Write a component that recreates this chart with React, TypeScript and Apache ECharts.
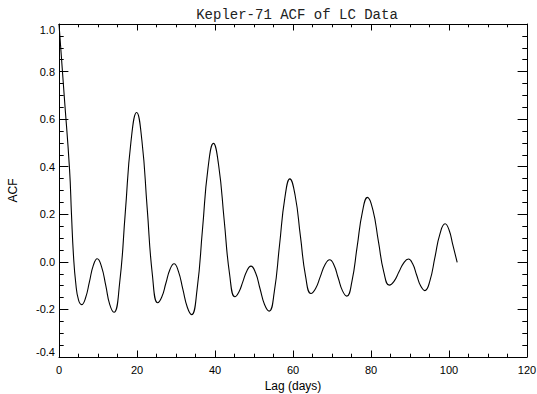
import React, { useEffect, useRef } from "react";
import * as echarts from "echarts";

const TITLE = "Kepler-71 ACF of LC Data";
const X_NAME = "Lag (days)";
const Y_NAME = "ACF";

const xTickValues = [0, 20, 40, 60, 80, 100, 120];
const yTickValues = [-0.4, -0.2, 0.0, 0.2, 0.4, 0.6, 0.8, 1.0];

// lag (days)
const lagDays = [
  0, 1.35, 2.7, 3.2, 3.7, 4.3, 5.0, 5.8,
  6.8, 7.8, 8.8, 9.8,
  10.9, 12.0, 13.0, 14.1,
  15.55, 17.0, 18.45, 19.9,
  21.25, 22.6, 23.95, 25.3,
  26.35, 27.4, 28.45, 29.5,
  30.6, 31.75, 32.9, 34.0,
  35.4, 36.8, 38.2, 39.6,
  40.95, 42.35, 43.75, 45.1,
  46.1, 47.15, 48.2, 49.2,
  50.4, 51.55, 52.7, 53.9,
  55.2, 56.55, 57.9, 59.2,
  60.55, 61.9, 63.25, 64.6,
  65.8, 67.0, 68.2, 69.4,
  70.5, 71.6, 72.7, 73.8,
  75.1, 76.45, 77.8, 79.1,
  80.5, 81.9, 83.3, 84.7,
  85.9, 87.15, 88.4, 89.6,
  90.65, 91.7, 92.75, 93.8,
  95.1, 96.4, 97.7, 99.0,
  100.0, 101.0, 102.1,
];

// ACF values
const acfValues = [
  1.0, 0.695, 0.39, 0.2, 0.03, -0.09, -0.16, -0.18,
  -0.152, -0.084, -0.015, 0.013,
  -0.02, -0.1, -0.179, -0.212,
  -0.089, 0.208, 0.505, 0.628,
  0.511, 0.228, -0.055, -0.172,
  -0.148, -0.09, -0.032, -0.008,
  -0.039, -0.115, -0.191, -0.222,
  -0.117, 0.138, 0.393, 0.498,
  0.404, 0.176, -0.053, -0.147,
  -0.128, -0.083, -0.037, -0.018,
  -0.046, -0.113, -0.179, -0.207,
  -0.126, 0.071, 0.268, 0.349,
  0.279, 0.108, -0.063, -0.133,
  -0.112, -0.062, -0.012, 0.009,
  -0.013, -0.068, -0.122, -0.144,
  -0.083, 0.064, 0.21, 0.271,
  0.217, 0.086, -0.044, -0.098,
  -0.082, -0.043, -0.004, 0.012,
  -0.007, -0.055, -0.102, -0.121,
  -0.08, 0.02, 0.119, 0.16,
  0.135, 0.07, -0.002,
];

const FONT = "Liberation Sans";
const BLACK = "#000";

export default function App() {
  const ref = useRef<HTMLDivElement>(null);

  useEffect(() => {
    if (!ref.current) return;
    const chart = echarts.init(ref.current, null, { renderer: "svg" });

    const lineStyle = { color: BLACK, width: 1 };
    const xMin = xTickValues[0];
    const xMax = xTickValues[xTickValues.length - 1];
    const xInt = xTickValues[1] - xTickValues[0];
    const yMin = yTickValues[0];
    const yMax = yTickValues[yTickValues.length - 1];
    const yInt = 0.2;

    const xBase = (position: "bottom" | "top", showLabel: boolean) => ({
      type: "value",
      position,
      min: xMin,
      max: xMax,
      interval: xInt,
      axisLine: { show: true, onZero: false, lineStyle },
      axisTick: { show: true, inside: true, length: 6.5, lineStyle },
      minorTick: { show: true, splitNumber: 4, length: 3.3, lineStyle },
      splitLine: { show: false },
      minorSplitLine: { show: false },
      axisLabel: {
        show: showLabel,
        margin: 7,
        fontSize: 11,
        fontFamily: FONT,
        color: BLACK,
      },
    });

    const yBase = (position: "left" | "right", showLabel: boolean) => ({
      type: "value",
      position,
      min: yMin,
      max: yMax,
      interval: yInt,
      axisLine: { show: true, onZero: false, lineStyle },
      axisTick: { show: true, inside: true, length: 9.4, lineStyle },
      minorTick: { show: true, splitNumber: 4, length: 4.7, lineStyle },
      splitLine: { show: false },
      minorSplitLine: { show: false },
      axisLabel: {
        show: showLabel,
        margin: 4,
        fontSize: 11,
        fontFamily: FONT,
        color: BLACK,
        formatter: (v: number) => v.toFixed(1),
        verticalAlignMinLabel: "bottom",
        verticalAlignMaxLabel: "top",
      },
    });

    chart.setOption({
      animation: false,
      backgroundColor: "#fff",
      grid: {
        left: 59,
        right: 10,
        top: 24,
        bottom: 37,
        containLabel: false,
        outerBoundsMode: "none",
      },
      graphic: [
        {
          type: "text",
          x: 297,
          y: 15,
          style: {
            text: TITLE,
            fontFamily: "Liberation Mono",
            fontSize: 14,
            fill: "#222",
            textAlign: "center",
            textVerticalAlign: "middle",
          },
        },
      ],
      xAxis: [
        {
          ...xBase("bottom", true),
          name: X_NAME,
          nameLocation: "middle",
          nameGap: 21,
          nameTextStyle: { fontFamily: FONT, fontSize: 12, color: BLACK },
        },
        xBase("top", false),
      ],
      yAxis: [
        {
          ...yBase("left", true),
          name: Y_NAME,
          nameLocation: "middle",
          nameGap: 40,
          nameRotate: 90,
          nameTextStyle: { fontFamily: FONT, fontSize: 12, color: BLACK },
        },
        yBase("right", false),
      ],
      series: [
        {
          type: "line",
          xAxisIndex: 0,
          yAxisIndex: 0,
          data: lagDays.map((d, i) => [d, acfValues[i]]),
          smooth: 0.5,
          showSymbol: false,
          symbol: "none",
          lineStyle: { color: BLACK, width: 1.1 },
        },
      ],
    });

    return () => chart.dispose();
  }, []);

  return (
    <div
      ref={ref}
      style={{
        position: "absolute",
        left: 0,
        top: 0,
        width: 537,
        height: 394,
        background: "#fff",
      }}
    />
  );
}
